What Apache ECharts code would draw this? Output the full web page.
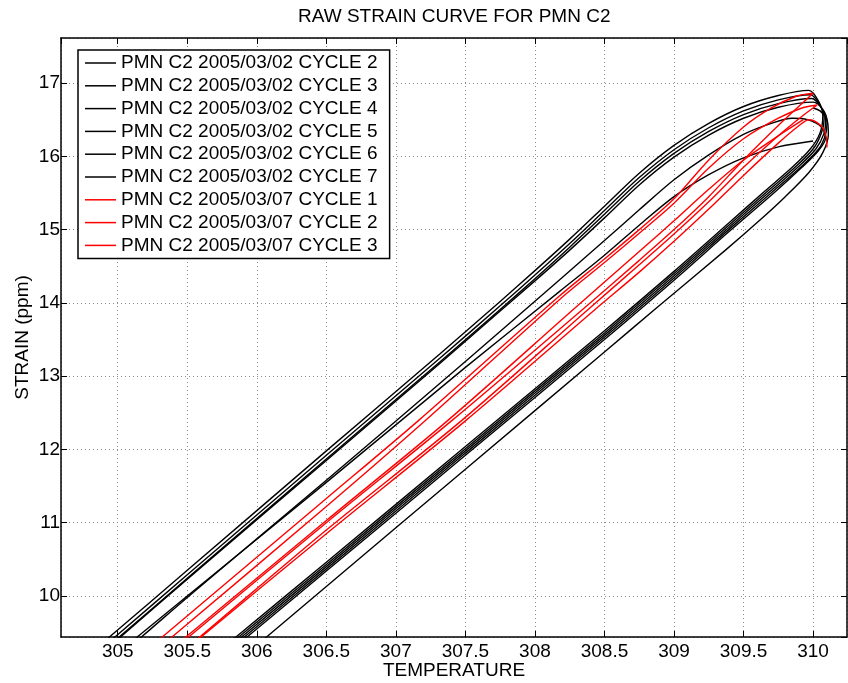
<!DOCTYPE html>
<html>
<head>
<meta charset="utf-8">
<title>RAW STRAIN CURVE FOR PMN C2</title>
<script src="https://cdn.jsdelivr.net/npm/echarts@6/dist/echarts.min.js"></script>
<style>
  html, body { margin: 0; padding: 0; background: #fff; }
  #chart { width: 848px; height: 683px; }
</style>
</head>
<body>
<div id="chart"></div>
<script>
// [temperature, strain], one array per cycle
const c0302_2 = [[305.76, 9.3], [305.85, 9.44], [306.5, 10.46], [307.5, 12.04], [308.5, 13.62], [309.0, 14.43], [309.4, 15.1], [309.65, 15.52], [309.85, 15.85], [309.98, 16.1], [310.05, 16.32], [310.07, 16.55], [310.04, 16.75], [309.97, 16.9],
  [309.75, 16.83], [309.5, 16.68], [309.25, 16.45], [309.0, 16.15], [308.75, 15.77], [308.5, 15.32], [308.25, 14.87], [308.0, 14.44], [307.75, 14.02], [307.32, 13.31], [306.5, 11.98], [305.5, 10.35], [304.94, 9.44], [304.85, 9.3]]
const c0302_3 = [[305.78, 9.3], [305.87, 9.44], [306.5, 10.43], [307.5, 12.01], [308.5, 13.59], [309.0, 14.4], [309.4, 15.07], [309.67, 15.52], [309.87, 15.85], [310.0, 16.1], [310.06, 16.32], [310.08, 16.52], [310.05, 16.7], [309.98, 16.84],
  [309.75, 16.77], [309.5, 16.62], [309.25, 16.39], [309.0, 16.09], [308.75, 15.71], [308.5, 15.26], [308.25, 14.81], [308.0, 14.38], [307.75, 13.96], [307.32, 13.25], [306.5, 11.92], [305.5, 10.29], [304.98, 9.44], [304.89, 9.3]]
const c0302_4 = [[305.8, 9.3], [305.89, 9.44], [306.5, 10.4], [307.5, 11.98], [308.5, 13.56], [309.0, 14.37], [309.4, 15.04], [309.69, 15.52], [309.89, 15.85], [310.02, 16.1], [310.08, 16.32], [310.09, 16.5], [310.06, 16.66], [309.99, 16.79],
  [309.75, 16.72], [309.5, 16.57], [309.25, 16.34], [309.0, 16.04], [308.75, 15.66], [308.5, 15.21], [308.25, 14.76], [308.0, 14.33], [307.75, 13.91], [307.32, 13.2], [306.5, 11.87], [305.5, 10.24], [305.01, 9.44], [304.92, 9.3]]
const c0302_5 = [[305.82, 9.3], [305.91, 9.44], [306.5, 10.37], [307.5, 11.95], [308.5, 13.53], [309.0, 14.34], [309.4, 15.01], [309.71, 15.52], [309.91, 15.85], [310.04, 16.1], [310.09, 16.3], [310.1, 16.48], [310.07, 16.64], [310.0, 16.74],
  [309.75, 16.67], [309.5, 16.52], [309.25, 16.29], [309.0, 15.99], [308.75, 15.61], [308.5, 15.16], [308.25, 14.72], [308.0, 14.3], [307.75, 13.89], [307.32, 13.18], [306.5, 11.85], [305.5, 10.23], [305.02, 9.44], [304.93, 9.3]]
const c0302_6 = [[305.84, 9.3], [305.93, 9.44], [306.5, 10.34], [307.5, 11.92], [308.5, 13.5], [309.0, 14.31], [309.4, 14.98], [309.73, 15.52], [309.92, 15.85], [310.04, 16.08], [310.09, 16.25], [310.06, 16.4], [309.96, 16.5], [309.85, 16.52],
  [309.7, 16.45], [309.5, 16.3], [309.25, 16.02], [309.0, 15.68], [308.75, 15.27], [308.5, 14.85], [308.18, 14.32], [307.5, 13.2], [306.5, 11.58], [305.5, 9.98], [305.17, 9.44], [305.08, 9.3]]
const c0302_7 = [[310.0, 16.21], [309.75, 16.13], [309.5, 15.98], [309.25, 15.75], [309.0, 15.45], [308.75, 15.06], [308.5, 14.65], [308.18, 14.16], [307.5, 13.12], [306.5, 11.55], [305.5, 10.0], [305.14, 9.44], [305.06, 9.32], [304.98, 9.2],
  [305.8, 9.0], [305.92, 9.2], [306.07, 9.44], [306.5, 10.13], [307.5, 11.73], [308.5, 13.33], [308.88, 13.94], [309.37, 14.72], [309.6, 15.1], [309.8, 15.45], [309.97, 15.78], [310.07, 16.05], [310.11, 16.3], [310.1, 16.5], [310.05, 16.62], [310.0, 16.66]]
const c0307_1 = [[305.42, 9.3], [305.51, 9.44], [306.5, 11.0], [307.4, 12.39], [308.33, 13.89], [308.75, 14.58], [309.0, 15.0], [309.25, 15.45], [309.5, 15.95], [309.75, 16.42], [309.92, 16.72], [310.0, 16.86],
  [309.88, 16.82], [309.7, 16.66], [309.5, 16.4], [309.25, 15.95], [309.0, 15.42], [308.75, 15.0], [308.5, 14.6], [308.18, 14.1], [307.16, 12.39], [306.5, 11.33], [305.32, 9.44], [305.23, 9.3]]
const c0307_2 = [[305.5, 9.3], [305.59, 9.44], [306.5, 10.9], [307.47, 12.39], [308.37, 13.89], [308.75, 14.52], [309.0, 14.94], [309.25, 15.38], [309.5, 15.85], [309.75, 16.28], [309.93, 16.56], [310.03, 16.7],
  [309.92, 16.66], [309.75, 16.52], [309.5, 16.24], [309.25, 15.84], [309.0, 15.36], [308.75, 14.95], [308.5, 14.55], [308.18, 14.05], [307.21, 12.39], [306.5, 11.22], [305.39, 9.44], [305.3, 9.3]]
const c0307_3 = [[309.93, 16.5], [309.75, 16.28], [309.5, 15.95], [309.25, 15.55], [309.0, 15.12], [308.75, 14.7], [308.3, 13.95], [307.37, 12.39], [306.5, 11.03], [305.49, 9.44], [305.4, 9.3], [305.31, 9.16],
  [305.45, 9.2], [305.52, 9.31], [305.6, 9.44], [306.5, 10.85], [307.5, 12.39], [308.42, 13.89], [308.75, 14.42], [309.0, 14.84], [309.25, 15.28], [309.5, 15.74], [309.75, 16.18], [309.9, 16.42], [309.97, 16.5], [310.05, 16.43], [310.09, 16.3], [310.1, 16.12]]

const cycleNames = ['PMN C2 2005/03/02 CYCLE 2', 'PMN C2 2005/03/02 CYCLE 3', 'PMN C2 2005/03/02 CYCLE 4',
  'PMN C2 2005/03/02 CYCLE 5', 'PMN C2 2005/03/02 CYCLE 6', 'PMN C2 2005/03/02 CYCLE 7',
  'PMN C2 2005/03/07 CYCLE 1', 'PMN C2 2005/03/07 CYCLE 2', 'PMN C2 2005/03/07 CYCLE 3']
const cycleData = [c0302_2, c0302_3, c0302_4, c0302_5, c0302_6, c0302_7, c0307_1, c0307_2, c0307_3]
const cycleColors = ['#000', '#000', '#000', '#000', '#000', '#000', '#ff0000', '#ff0000', '#ff0000']

const xRange = [304.592, 310.244]
const yRange = [9.44, 17.615]

const font = 'Liberation Sans, Arial, Helvetica, sans-serif'
const gridLine = { show: true, lineStyle: { color: '#8c8c8c', width: 1, type: [1, 3] } }

function xAxisCfg (pos, main) {
  return {
    type: 'value', position: pos, min: xRange[0], max: xRange[1],
    minInterval: 0.5, maxInterval: 0.5,
    axisLine: { show: true, onZero: false, lineStyle: { color: '#000', width: 1.5 } },
    axisTick: { show: true, inside: true, length: 6, lineStyle: { color: '#000', width: 1 } },
    axisLabel: main ? {
      show: true, color: '#000', fontSize: 19, fontFamily: font, margin: 5,
      showMinLabel: false, showMaxLabel: false,
      formatter: (v) => Math.abs(v * 2 - Math.round(v * 2)) < 1e-6 ? String(v) : ''
    } : { show: false },
    splitLine: main ? gridLine : { show: false },
    name: main ? 'TEMPERATURE' : '',
    nameLocation: 'middle', nameGap: 24, nameMoveOverlap: false,
    nameTextStyle: { color: '#000', fontSize: 19, fontFamily: font }
  }
}

function yAxisCfg (pos, main) {
  return {
    type: 'value', position: pos, min: yRange[0], max: yRange[1],
    minInterval: 1, maxInterval: 1,
    axisLine: { show: true, onZero: false, lineStyle: { color: '#000', width: 1.5 } },
    axisTick: { show: true, inside: true, length: 6, lineStyle: { color: '#000', width: 1 } },
    axisLabel: main ? {
      show: true, color: '#000', fontSize: 19, fontFamily: font, margin: 1,
      showMinLabel: false, showMaxLabel: false,
      formatter: (v) => Math.abs(v - Math.round(v)) < 1e-6 ? String(v) : ''
    } : { show: false },
    splitLine: main ? gridLine : { show: false },
    name: main ? 'STRAIN (ppm)' : '',
    nameLocation: 'middle', nameGap: 29, nameMoveOverlap: false,
    nameTextStyle: { color: '#000', fontSize: 19, fontFamily: font }
  }
}

const chart = echarts.init(document.getElementById('chart'))
const option = {
  animation: false,
  backgroundColor: '#fff',
  title: {
    text: 'RAW STRAIN CURVE FOR PMN C2',
    left: 298, top: 7, padding: 0,
    textStyle: { color: '#000', fontSize: 19, fontWeight: 'normal', fontFamily: font }
  },
  grid: { left: 61, right: 1, top: 38, bottom: 46, containLabel: false, outerBoundsMode: 'none' },
  legend: {
    orient: 'vertical', left: 78, top: 50,
    padding: [3, 12, 3, 7], itemGap: 2.8,
    itemWidth: 31, itemHeight: 1.5, icon: 'rect',
    backgroundColor: '#fff', borderColor: '#000', borderWidth: 1.5,
    textStyle: { color: '#000', fontSize: 19, fontFamily: font, lineHeight: 20 },
    data: cycleNames
  },
  xAxis: [xAxisCfg('bottom', true), xAxisCfg('top', false)],
  yAxis: [yAxisCfg('left', true), yAxisCfg('right', false)],
  series: cycleData.map((d, i) => ({
    name: cycleNames[i],
    type: 'line',
    data: d,
    xAxisIndex: 0,
    yAxisIndex: 0,
    symbol: 'none',
    smooth: 0.3,
    clip: true,
    color: cycleColors[i],
    lineStyle: { color: cycleColors[i], width: 1.4 }
  }))
}
chart.setOption(option)
</script>
</body>
</html>
